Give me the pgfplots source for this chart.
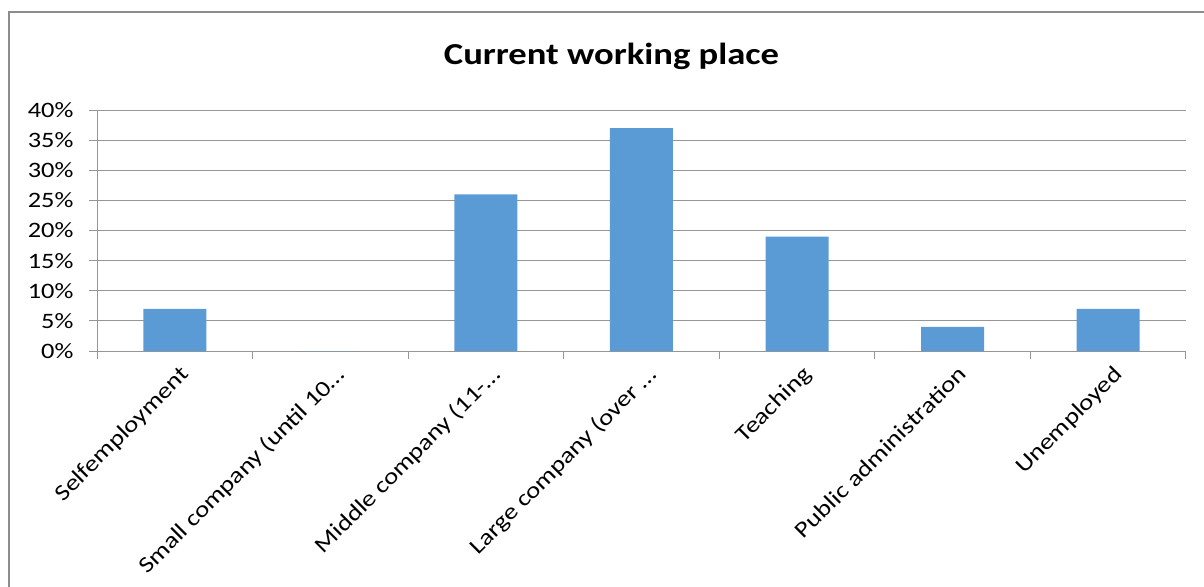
\documentclass[border=0pt]{standalone}
\usepackage{fontspec}
\setmainfont{Carlito}
\newfontfamily\xlfont[FakeStretch=1.2]{Carlito}
\usepackage{pgfplots}
\pgfplotsset{compat=1.18}
\definecolor{barblue}{HTML}{5B9BD5}
\definecolor{gridgray}{RGB}{150,150,150}
\definecolor{framegray}{RGB}{140,140,140}

\begin{document}
\begin{tikzpicture}
\path[use as bounding box] (0,0) rectangle (1204bp,-587bp);
\draw[framegray, line width=1.2bp] (9bp,-620bp) -- (9bp,-12bp) -- (1230bp,-12bp);

% title
\node[anchor=base, font=\xlfont\fontsize{30.5bp}{31bp}\selectfont\bfseries]
  at (611.5bp,-64bp) {Current working place};

\begin{axis}[
    at={(97bp,-351bp)}, anchor=south west,
    scale only axis,
    width=1089bp, height=241bp,
    xmin=-0.5, xmax=6.5,
    ymin=0, ymax=40,
    axis lines*=left,
    axis line style={gridgray, line width=1bp},
    ymajorgrids,
    grid style={gridgray, line width=1bp},
    /pgf/number format/assume math mode=true,
    ytick={0,5,...,40},
    yticklabel={\pgfmathprintnumber{\tick}\%},
    yticklabel style={font=\xlfont\fontsize{22bp}{22bp}\selectfont, anchor=east, xshift=-12bp},
    xtick={-0.5,0.5,...,6.5},
    xticklabels={},
    tick align=outside,
    major tick length=8bp,
    tick style={gridgray, line width=1bp},
    extra x ticks={0,1,2,3,4,5,6},
    extra x tick labels={Selfemployment, Small company (until 10…, Middle company (11-…, Large company (over …, Teaching, Public administration, Unemployed},
    extra x tick style={major tick length=0pt, grid=none,
        xticklabel style={font=\xlfont\fontsize{22.5bp}{22bp}\selectfont, rotate=45, anchor=north east, xshift=-3bp, yshift=-9bp}},
    clip=false,
]
\addplot[ybar, bar width=63bp, fill=barblue, draw=none] coordinates {
    (0,7) (1,0) (2,26) (3,37) (4,19) (5,4) (6,7)
};
\end{axis}
\end{tikzpicture}
\end{document}
